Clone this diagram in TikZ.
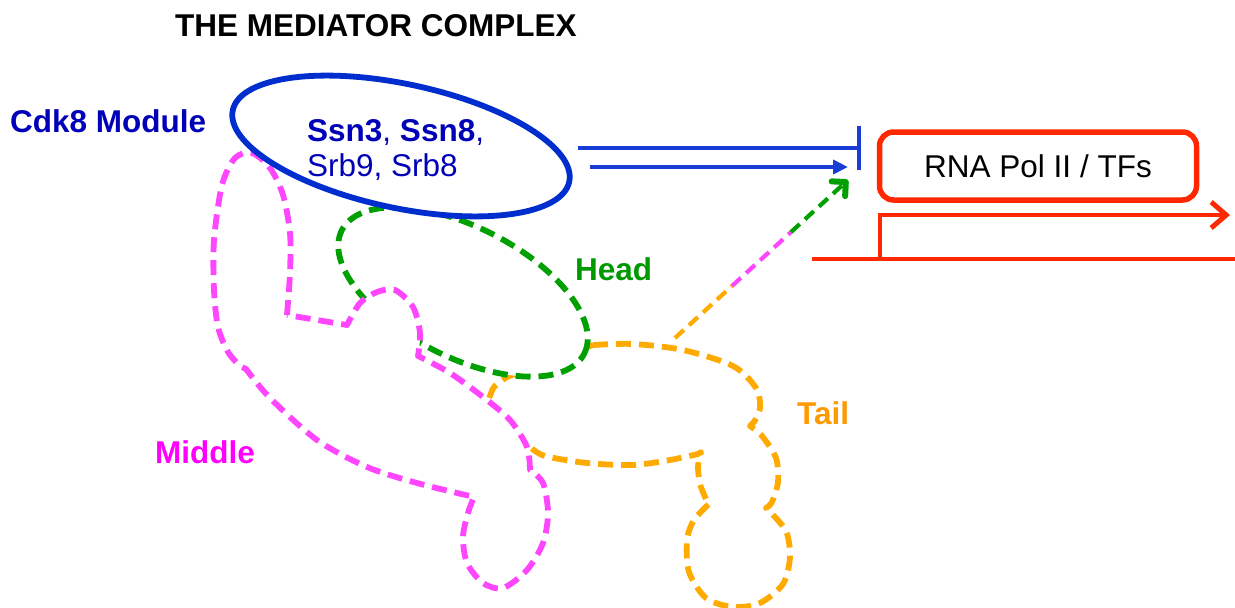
\documentclass[tikz,border=0pt]{standalone}
\usepackage{fontspec}
\setmainfont{Liberation Sans}
\usetikzlibrary{arrows.meta,calc}
\definecolor{cdkblue}{RGB}{0,0,185}
\definecolor{ringblue}{RGB}{0,45,205}
\definecolor{arrowblue}{RGB}{25,60,215}
\definecolor{headgreen}{RGB}{0,153,0}
\definecolor{headline}{RGB}{0,160,0}
\definecolor{midmag}{RGB}{255,0,255}
\definecolor{midline}{RGB}{255,70,255}
\definecolor{tailorange}{RGB}{255,153,0}
\definecolor{tailline}{RGB}{255,170,0}
\definecolor{polred}{RGB}{255,40,0}
\begin{document}
\begin{tikzpicture}[x=1pt,y=-1pt,
  lbl/.style={inner sep=0pt, anchor=base west, font=\fontsize{31.5}{35}\selectfont},
  blbl/.style={inner sep=0pt, anchor=base west, font=\fontsize{31.5}{35}\selectfont\bfseries},
  subunit/.style={line width=5.8pt, dash pattern=on 15pt off 8pt, line join=round, fill=white},
  link/.style={line width=4.2pt, dash pattern=on 12pt off 7pt},
  redline/.style={draw=polred, line width=3.8pt},
  blueline/.style={draw=arrowblue, line width=3.8pt}
]
\useasboundingbox (0,0) rectangle (1235,608);

% Tail module (drawn first, partly covered by Head and Middle)
\filldraw[subunit, draw=tailline]
  plot[smooth] coordinates {(593,345) (633,344) (683,350) (733,366) (756,388) (760,408) (754,422)}
  -- plot[smooth] coordinates {(750,426) (762,436) (776,458) (778,482) (772,502) (766,508)}
  -- plot[smooth] coordinates {(770,512) (786,531) (790,557) (783,584) (760,603) (733,607) (706,598) (689,572) (687,540) (694,520) (710,503)}
  -- plot[smooth] coordinates {(706,499) (700,484) (698,466) (701,452)}
  -- plot[smooth] coordinates {(698,454) (670,460) (633,465) (587,463) (545,456) (530,447)}
  -- (505,435) -- (485,418)
  -- plot[smooth] coordinates {(488,402) (494,387) (507,377)}
  -- (550,360) -- cycle;

% Head module
\filldraw[subunit, draw=headline, rotate around={-27:(463,292)}]
  (463,292) ellipse [x radius=136pt, y radius=65pt];

% Middle module
\filldraw[subunit, draw=midline]
  plot[smooth] coordinates {(287,315) (290,273) (290,233) (283,195) (270,168) (252,153) (235,158) (222,185) (214,240) (214,290) (218,327) (228,352) (240,366)}
  -- plot[smooth] coordinates {(246,369) (270,398) (317,440) (367,467) (417,483) (474,497)}
  -- plot[smooth] coordinates {(474,497) (468,513) (463,537) (467,563) (483,583) (503,588) (527,570) (543,543) (548,513) (543,483) (530,470)}
  -- plot[smooth] coordinates {(530,470) (527,447) (510,420) (483,397) (450,373) (418,356)}
  -- plot[smooth] coordinates {(418,356) (420,333) (413,307) (395,290) (377,292) (360,303) (347,325)}
  -- cycle;

% Cdk8 module
\filldraw[draw=ringblue, fill=white, line width=5.8pt, rotate around={-12:(401,146)}]
  (401,146) ellipse [x radius=172pt, y radius=62pt];

% Labels
\node[blbl] (title) at (175,36) {THE MEDIATOR COMPLEX};
\node[blbl, text=cdkblue] (cdk) at (10,132) {Cdk8 Module};
\node[lbl, text=cdkblue] (ssn) at (307,141) {\textbf{Ssn3}, \textbf{Ssn8},};
\node[lbl, text=cdkblue] (srb) at (307,176) {Srb9, Srb8};
\node[blbl, text=headgreen] (head) at (575,280) {Head};
\node[blbl, text=tailorange] (tail) at (797,424) {Tail};
\node[blbl, text=midmag] (middle) at (155,463) {Middle};

% RNA polymerase II and the promoter
\node[draw=polred, line width=5.5pt, rounded corners=14pt, minimum width=317pt,
      minimum height=68pt, inner sep=0pt, font=\fontsize{31.5}{35}\selectfont]
  (pol) at (1038,166) {RNA Pol II / TFs};
\coordinate (dnaL) at (812,259);
\coordinate (dnaR) at (1235,259);
\coordinate (tss) at (880,259);
\coordinate (txEnd) at (1230,215);
\draw[redline] (dnaL) -- (dnaR);
\draw[redline, -{Straight Barb[length=15pt,width=26pt,line width=5pt]}] (tss) |- (txEnd);

% Repression and activation by the Cdk8 module
\coordinate (inhS) at (578,148);
\coordinate (inhE) at (861,148);
\coordinate (actS) at (590,167);
\coordinate (actE) at (848,167);
\draw[blueline, -{Bar[width=44pt]}] (inhS) -- (inhE);
\draw[blueline, -{Triangle[length=15pt,width=14pt]}] (actS) -- (actE);

% Activation signal passed from Tail through Middle and Head
\coordinate (sig0) at (675,338);
\coordinate (sig3) at (848,180);
\coordinate (sig1) at ($(sig0)!0.33!(sig3)$);
\coordinate (sig2) at ($(sig0)!0.67!(sig3)$);
\draw[link, draw=tailline] (sig0) -- (sig1);
\draw[link, draw=midline] (sig1) -- (sig2);
\draw[link, draw=headline, -{Straight Barb[length=10pt,width=20pt,line width=6pt,round]}] (sig2) -- (sig3);
\end{tikzpicture}
\end{document}
